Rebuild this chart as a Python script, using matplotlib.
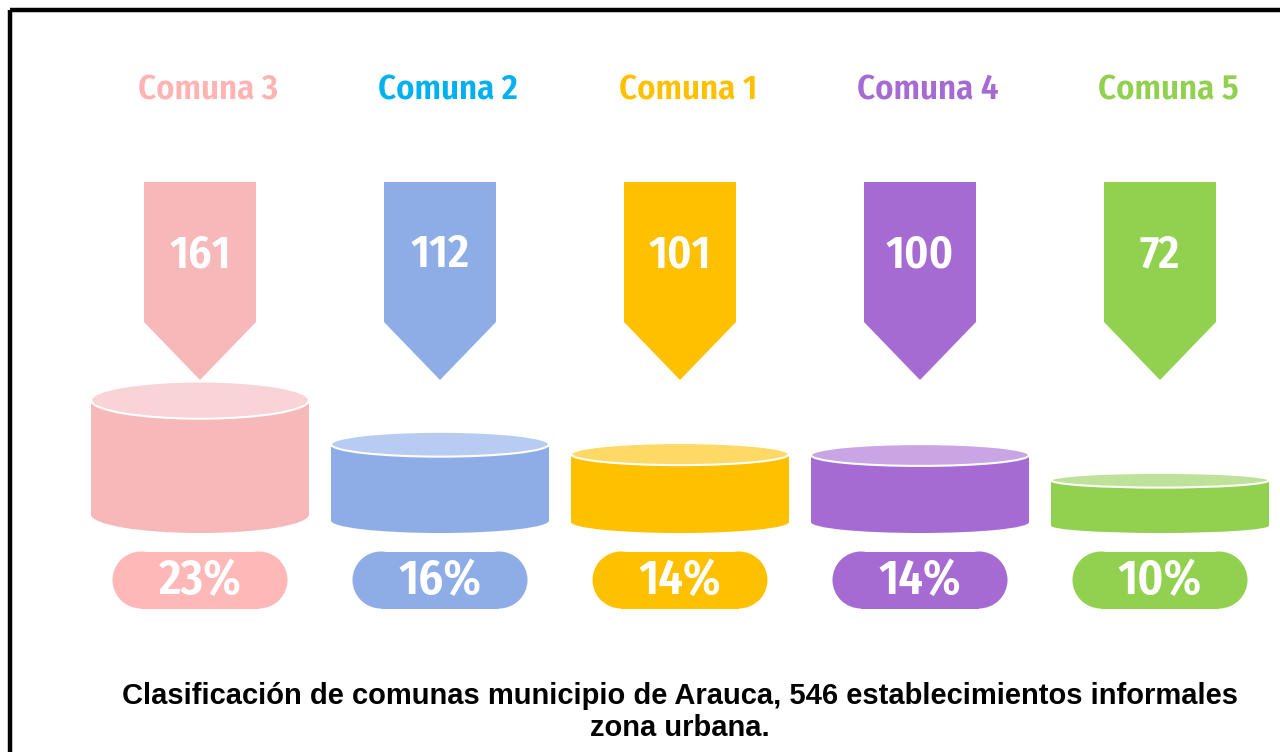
import matplotlib.pyplot as plt
from matplotlib.patches import Ellipse, Rectangle, Polygon, Circle

comunas = ['Comuna 3', 'Comuna 2', 'Comuna 1', 'Comuna 4', 'Comuna 5']
establecimientos = [161, 112, 101, 100, 72]
porcentajes = ['23%', '16%', '14%', '14%', '10%']
titulo = ('Clasificación de comunas municipio de Arauca, 546 establecimientos informales\n'
          'zona urbana.')

label_colors = ['#FFB3B3', '#00B0F0', '#FFC000', '#A66BD3', '#92D050']
body_colors = ['#F7B8BA', '#8EADE6', '#FFC000', '#A66BD3', '#92D050']
top_colors = ['#F9D3D5', '#B8CCF1', '#FFD966', '#C9A5E6', '#BEE29A']
pill_colors = ['#FFB8B8', '#8EADE6', '#FFC000', '#A66BD3', '#92D050']

cond = 'Fira Sans Condensed'

fig = plt.figure(figsize=(12.8, 7.52), dpi=100)
ax = fig.add_axes([0, 0, 1, 1])
ax.set_xlim(0, 1280)
ax.set_ylim(752, 0)
ax.axis('off')

# frame (runs off the right and bottom edges like the original)
ax.add_patch(Rectangle((10, 10), 1400, 900, fill=False, edgecolor='black', lw=3.2))

base = 533
for i, (name, n, pct) in enumerate(zip(comunas, establecimientos, porcentajes)):
    cx = 200 + i * 240

    ax.text(cx + 8, 90, name, color=label_colors[i], fontsize=25, fontweight=600,
            family=cond, ha='center', va='center')

    # arrow
    w, top, shoulder, tip = 112, 182, 322, 380
    ax.add_patch(Polygon([(cx - w / 2, top), (cx + w / 2, top), (cx + w / 2, shoulder),
                          (cx, tip), (cx - w / 2, shoulder)], closed=True,
                         facecolor=body_colors[i], edgecolor='none'))
    ax.text(cx, 255, str(n), color='white', fontsize=33, fontweight=600,
            family=cond, ha='center', va='center')

    # cylinder, total height scaled from the count
    total = 0.9 * n - 12
    eh = 0.28 * total
    cw = 218
    ytop = base - total
    ybot = base - eh / 2
    ax.add_patch(Ellipse((cx, ybot), cw, eh, facecolor=body_colors[i], edgecolor='none'))
    ax.add_patch(Rectangle((cx - cw / 2, ytop), cw, ybot - ytop,
                           facecolor=body_colors[i], edgecolor='none'))
    ax.add_patch(Ellipse((cx, ytop), cw, eh, facecolor=top_colors[i],
                         edgecolor='white', lw=1.5))

    # percentage pill
    pw, ph, py = 175, 57, 580
    r = ph / 2
    ax.add_patch(Rectangle((cx - pw / 2 + r, py - r), pw - 2 * r, ph,
                           facecolor=pill_colors[i], edgecolor='none'))
    ax.add_patch(Circle((cx - pw / 2 + r, py), r, facecolor=pill_colors[i], edgecolor='none'))
    ax.add_patch(Circle((cx + pw / 2 - r, py), r, facecolor=pill_colors[i], edgecolor='none'))
    ax.text(cx, py + 1, pct, color='white', fontsize=35, fontweight=600,
            family=cond, ha='center', va='center')

ax.text(680, 712, titulo, color='black', fontsize=21, fontweight='bold',
        family='Liberation Sans', ha='center', va='center', linespacing=1.2)

fig.savefig('out.png', dpi=100)
